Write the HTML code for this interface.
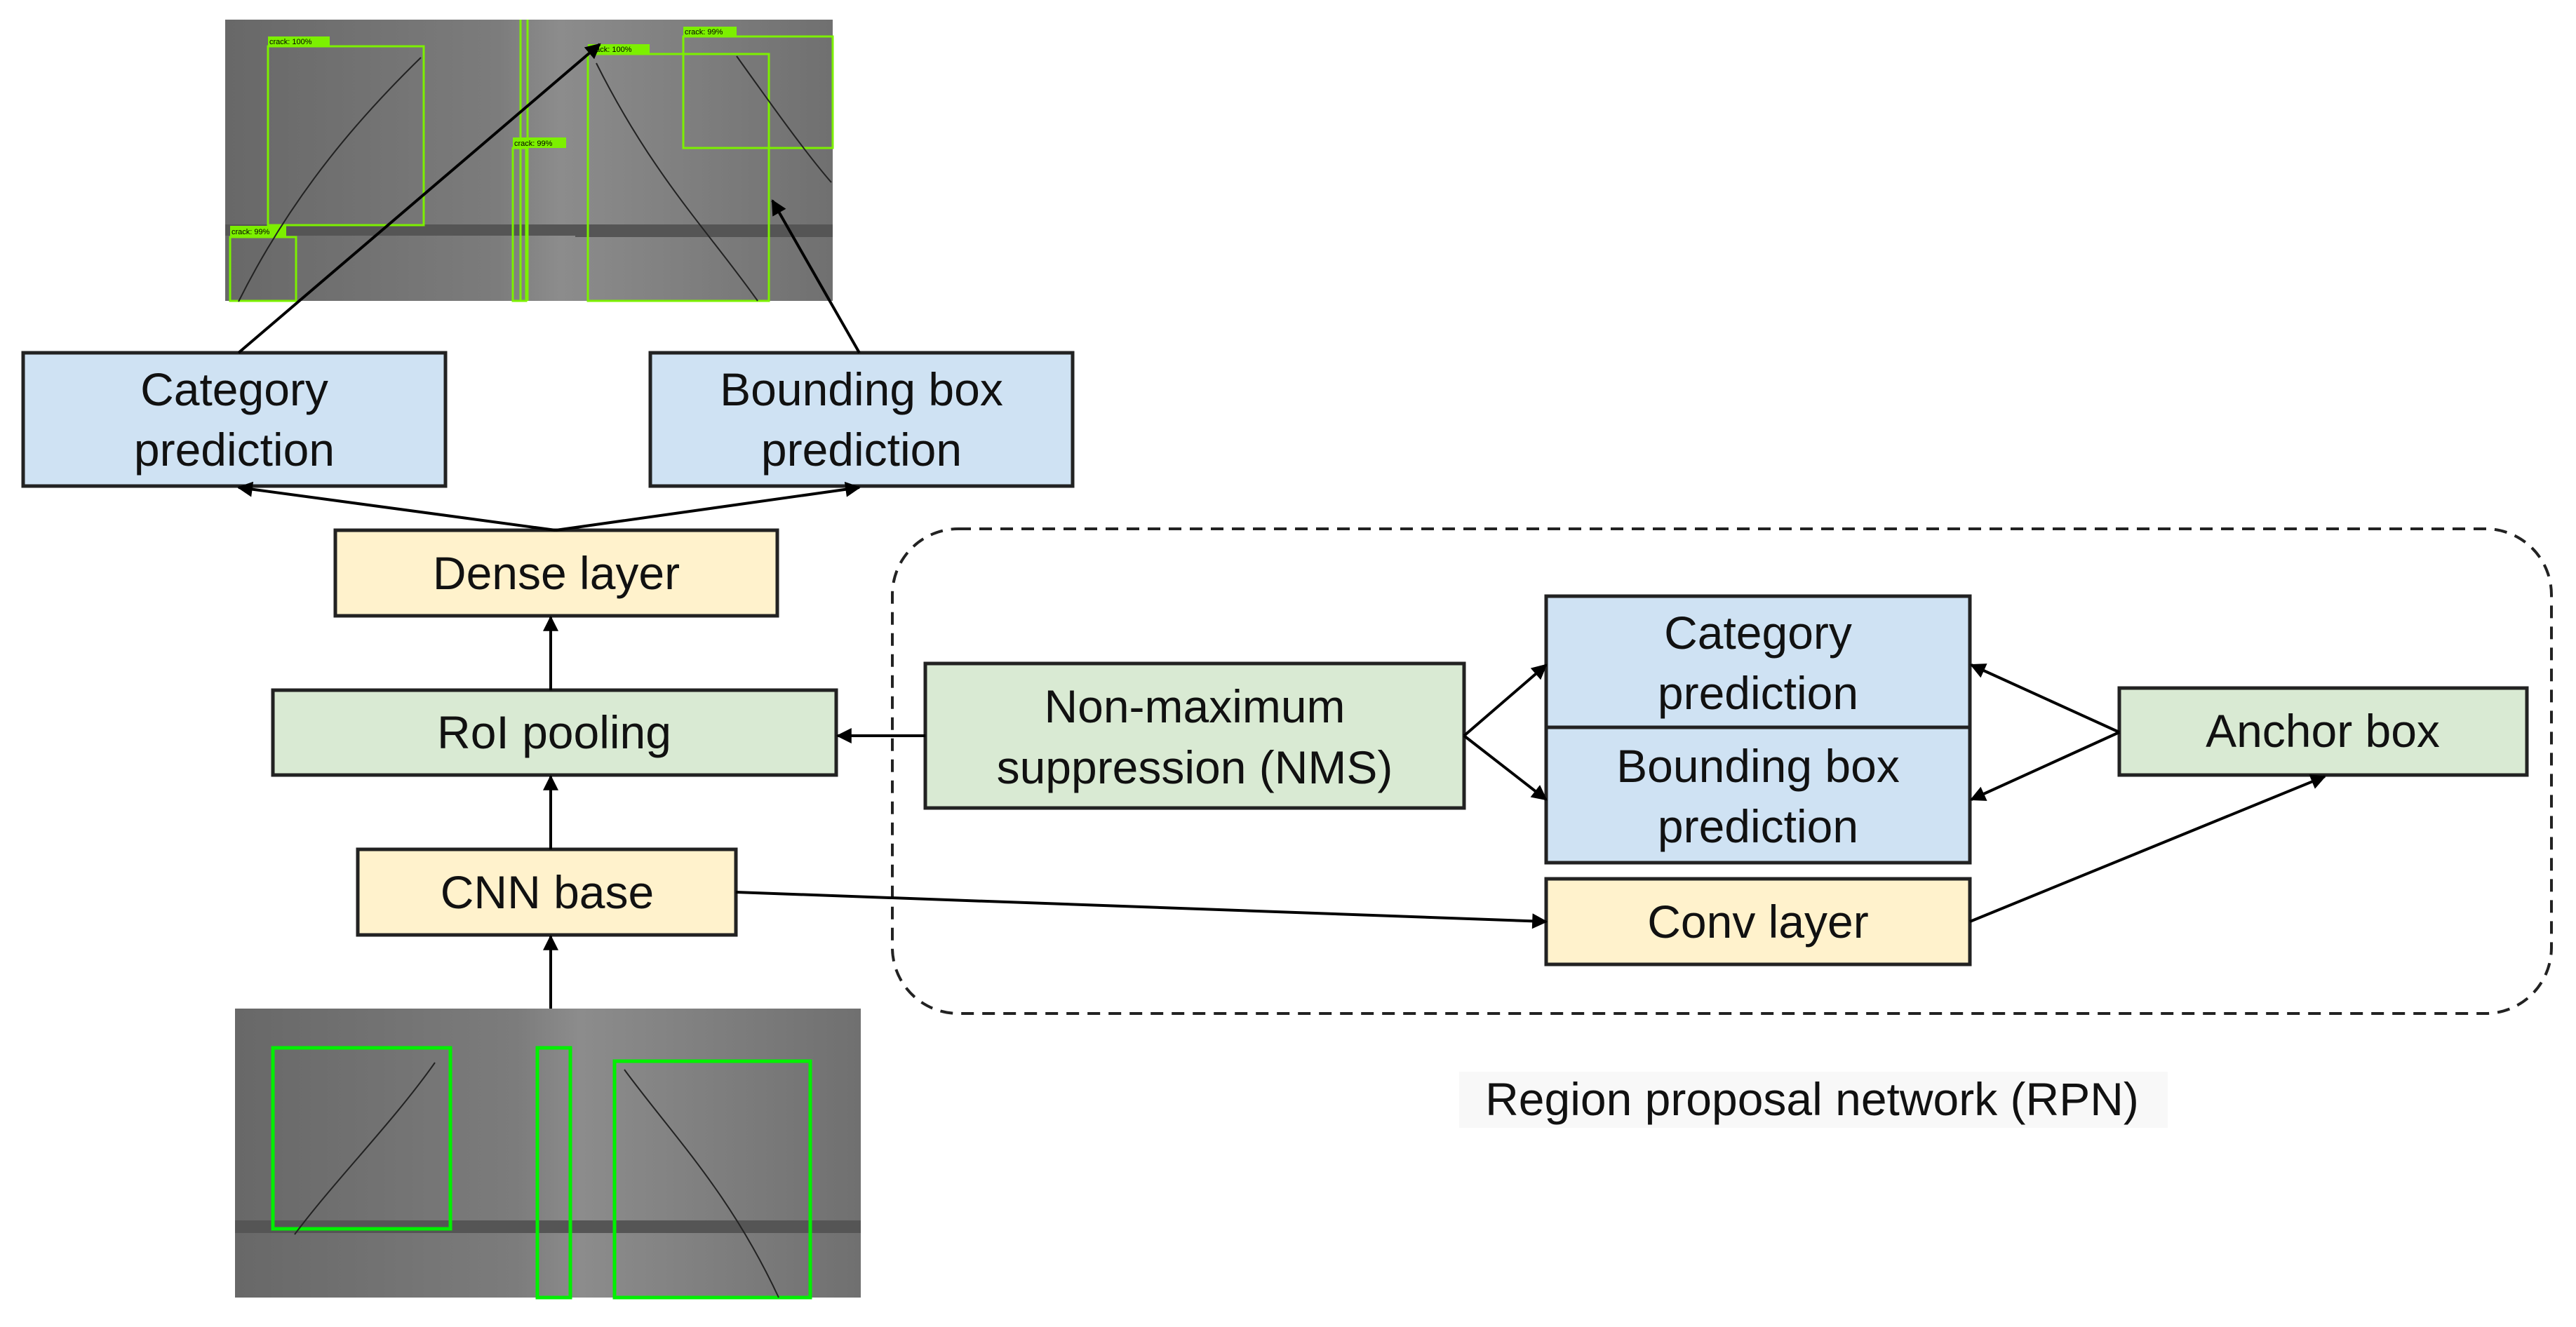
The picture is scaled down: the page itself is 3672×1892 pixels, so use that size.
<!DOCTYPE html>
<html><head><meta charset="utf-8"><style>html,body{margin:0;padding:0;background:#fff}svg{display:block}</style></head>
<body>
<svg width="3672" height="1892" viewBox="0 0 3672 1892" xmlns="http://www.w3.org/2000/svg" font-family="Liberation Sans, Arial, sans-serif">
<defs>
<marker id="b" viewBox="0 0 10 10" refX="9" refY="5" markerWidth="28" markerHeight="22" markerUnits="userSpaceOnUse" orient="auto"><path d="M0,0L10,5L0,10z" fill="#000"/></marker>
<linearGradient id="g1" x1="0" x2="1"><stop offset="0" stop-color="#686868"/><stop offset="0.45" stop-color="#7c7c7c"/><stop offset="0.55" stop-color="#8c8c8c"/><stop offset="1" stop-color="#707070"/></linearGradient>
</defs>
<!-- top image -->
<rect x="321" y="28" width="866" height="401" fill="url(#g1)"/>
<rect x="321" y="320" width="560" height="16" fill="#555"/>
<rect x="820" y="320" width="367" height="18" fill="#555"/>
<g fill="none" stroke="#7cf000" stroke-width="3">
<rect x="382" y="66" width="222" height="255"/>
<rect x="328" y="338" width="94" height="91"/>
<rect x="731" y="211" width="19" height="218"/>
<rect x="838" y="77" width="258" height="352"/>
<rect x="974" y="52" width="213" height="159"/>
<line x1="742" y1="28" x2="742" y2="429"/><line x1="752" y1="28" x2="752" y2="429"/>
</g>
<g fill="#7cf000"><rect x="382" y="52" width="88" height="14"/><rect x="328" y="322" width="80" height="16"/><rect x="731" y="196" width="76" height="15"/><rect x="838" y="63" width="88" height="14"/><rect x="974" y="38" width="76" height="14"/></g>
<g font-size="11" fill="#000"><text x="384" y="63">crack: 100%</text><text x="330" y="334">crack: 99%</text><text x="733" y="208">crack: 99%</text><text x="840" y="74">crack: 100%</text><text x="976" y="49">crack: 99%</text></g>
<path d="M600,82 C520,160 420,270 340,430" stroke="#222" stroke-width="2" fill="none"/>
<path d="M850,90 C930,250 1010,330 1080,429" stroke="#222" stroke-width="2" fill="none"/>
<path d="M1050,80 C1100,150 1150,220 1185,260" stroke="#222" stroke-width="2" fill="none"/>
<!-- bottom image -->
<rect x="335" y="1438" width="892" height="412" fill="url(#g1)"/>
<rect x="335" y="1740" width="892" height="18" fill="#555"/>
<g fill="none" stroke="#00f000" stroke-width="5">
<rect x="389" y="1494" width="253" height="258"/><rect x="766" y="1494" width="47" height="356"/><rect x="876" y="1513" width="279" height="337"/>
</g>
<path d="M620,1515 C560,1600 480,1680 420,1760" stroke="#222" stroke-width="2" fill="none"/>
<path d="M890,1525 C960,1620 1040,1700 1110,1850" stroke="#222" stroke-width="2" fill="none"/>
<!-- dashed RPN -->
<rect x="1272" y="754" width="2365" height="691" rx="94" fill="none" stroke="#222" stroke-width="4" stroke-dasharray="18 12"/>
<rect x="2080" y="1528" width="1010" height="80" fill="#f8f8f8"/>
<!-- boxes -->
<g stroke="#222" stroke-width="5">
<rect x="33" y="503" width="602" height="190" fill="#cfe2f3"/>
<rect x="927" y="503" width="602" height="190" fill="#cfe2f3"/>
<rect x="478" y="756" width="630" height="122" fill="#fff2cc"/>
<rect x="389" y="984" width="803" height="121" fill="#d9ead3"/>
<rect x="510" y="1211" width="539" height="122" fill="#fff2cc"/>
<rect x="1319" y="946" width="768" height="206" fill="#d9ead3"/>
<rect x="2204" y="850" width="604" height="187" fill="#cfe2f3"/>
<rect x="2204" y="1037" width="604" height="193" fill="#cfe2f3"/>
<rect x="2204" y="1253" width="604" height="122" fill="#fff2cc"/>
<rect x="3021" y="981" width="581" height="124" fill="#d9ead3"/>
</g>
<g font-size="66" fill="#111" text-anchor="middle">
<text x="334" y="578">Category</text><text x="334" y="664">prediction</text>
<text x="1228" y="578">Bounding box</text><text x="1228" y="664">prediction</text>
<text x="793" y="840">Dense layer</text>
<text x="790" y="1067">RoI pooling</text>
<text x="780" y="1295">CNN base</text>
<text x="1703" y="1030">Non-maximum</text><text x="1703" y="1117">suppression (NMS)</text>
<text x="2506" y="925">Category</text><text x="2506" y="1011">prediction</text>
<text x="2506" y="1115">Bounding box</text><text x="2506" y="1201">prediction</text>
<text x="2506" y="1337">Conv layer</text>
<text x="3311" y="1065">Anchor box</text>
<text x="2583" y="1590">Region proposal network (RPN)</text>
</g>
<!-- arrows -->
<g stroke="#000" stroke-width="4" fill="none" marker-end="url(#b)">
<line x1="340" y1="503" x2="855" y2="63"/>
<line x1="1225" y1="503" x2="1101" y2="286"/>
<line x1="792" y1="756" x2="340" y2="695"/>
<line x1="792" y1="756" x2="1225" y2="695"/>
<line x1="785" y1="984" x2="785" y2="880"/>
<line x1="785" y1="1211" x2="785" y2="1107"/>
<line x1="785" y1="1438" x2="785" y2="1335"/>
<line x1="1319" y1="1049" x2="1194" y2="1049"/>
<line x1="2087" y1="1049" x2="2204" y2="948"/>
<line x1="2087" y1="1049" x2="2204" y2="1140"/>
<line x1="3021" y1="1044" x2="2810" y2="948"/>
<line x1="3021" y1="1044" x2="2810" y2="1140"/>
<line x1="2808" y1="1314" x2="3314" y2="1107"/>
<line x1="1049" y1="1272" x2="2204" y2="1314"/>
</g>
</svg>
</body></html>
